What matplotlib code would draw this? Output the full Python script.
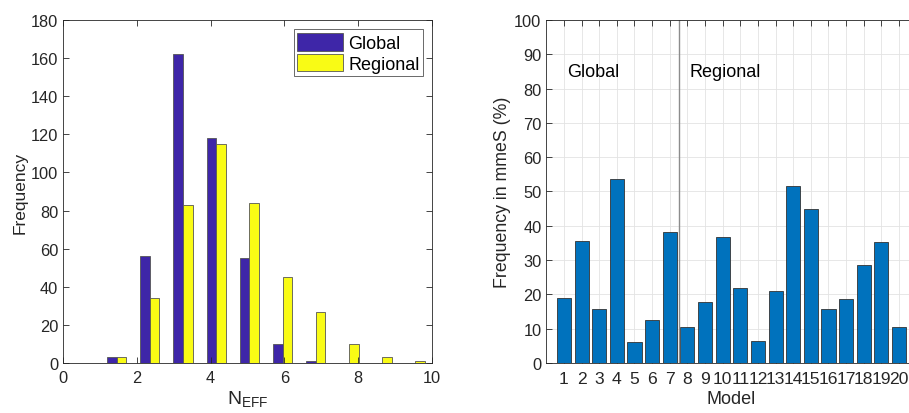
import numpy as np
import matplotlib
matplotlib.use('Agg')
import matplotlib.pyplot as plt

# histogram of N_EFF (10 bins between 1 and 10)
centros_bins = [1.45, 2.35, 3.25, 4.15, 5.05, 5.95, 6.85, 7.75, 8.65, 9.55]
freq_global   = [3, 56, 162, 118, 55, 10, 1, 0, 0, 0]
freq_regional = [3, 34, 83, 115, 84, 45, 27, 10, 3, 1]

# frequency in mmeS per model
modelos   = list(range(1, 21))
freq_mmes = [19.0, 35.5, 15.6, 53.5, 6.0, 12.6, 38.3, 10.5, 17.7, 36.8,
             21.8, 6.4, 21.0, 51.7, 44.8, 15.7, 18.7, 28.7, 35.3, 10.5]

AZUL_GLOBAL = '#3e26a8'
AMARELO_REG = '#f9fb15'
AZUL_BARRA  = '#0072bd'
COR_EIXO    = '#262626'

plt.rcParams['font.family'] = ['Liberation Sans', 'DejaVu Sans']
plt.rcParams['font.size'] = 11


def estilo_matlab(ax):
    for s in ax.spines.values():
        s.set_color(COR_EIXO)
        s.set_linewidth(0.6)
    ax.tick_params(direction='in', top=True, right=True, colors=COR_EIXO,
                   labelsize=11.8, length=4, width=0.6)


fig = plt.figure(figsize=(9.09, 4.14), dpi=100)

# ---- left: histogram
ax1 = fig.add_axes([0.0693, 0.1208, 0.406, 0.8285])
x = np.array(centros_bins)
larg = 0.26
ax1.bar(x - larg / 2, freq_global, width=larg, color=AZUL_GLOBAL,
        edgecolor='#555555', linewidth=0.6, label='Global')
ax1.bar(x + larg / 2, freq_regional, width=larg, color=AMARELO_REG,
        edgecolor='#555555', linewidth=0.6, label='Regional')
ax1.set_xlim(0, 10)
ax1.set_ylim(0, 180)
ax1.set_xticks(range(0, 11, 2))
ax1.set_yticks(range(0, 181, 20))
ax1.set_ylabel('Frequency', fontsize=12.5, color=COR_EIXO, labelpad=2)
ax1.set_xlabel('N$_{\\mathregular{EFF}}$', fontsize=14, color=COR_EIXO, labelpad=2.5)
estilo_matlab(ax1)
ax1.tick_params(axis='x', pad=5)
leg = ax1.legend(loc='upper right', fontsize=13, frameon=True, fancybox=False,
                 handlelength=2.5, handleheight=1.15, handletextpad=0.3,
                 borderpad=0.2, labelspacing=0.1, borderaxespad=0.5)
leg.get_frame().set_edgecolor(COR_EIXO)
leg.get_frame().set_linewidth(0.6)

# ---- right: frequency per model (axes is cut by the figure edge)
ax2 = fig.add_axes([0.601, 0.1208, 0.4074, 0.8285])
ax2.set_axisbelow(True)
ax2.grid(True, color='#e3e3e3', linewidth=0.6)
ax2.bar(modelos, freq_mmes, width=0.8, color=AZUL_BARRA,
        edgecolor='#333333', linewidth=0.6)
ax2.axvline(7.5, color='#8c8c8c', linewidth=1.0)
ax2.set_xlim(0, 21)
ax2.set_ylim(0, 100)
ax2.set_xticks(modelos)
ax2.set_yticks(range(0, 101, 10))
ax2.set_xlabel('Model', fontsize=13, color=COR_EIXO, labelpad=3)
ax2.set_ylabel('Frequency in mmeS (%)', fontsize=12.8, color=COR_EIXO, labelpad=2)
estilo_matlab(ax2)
ax2.tick_params(axis='x', pad=6, labelsize=12.6)
ax2.text(1.2, 85, 'Global', fontsize=13, color='black', va='center')
ax2.text(8.1, 85, 'Regional', fontsize=13, color='black', va='center')

fig.savefig('out.png', dpi=100)
plt.close(fig)
